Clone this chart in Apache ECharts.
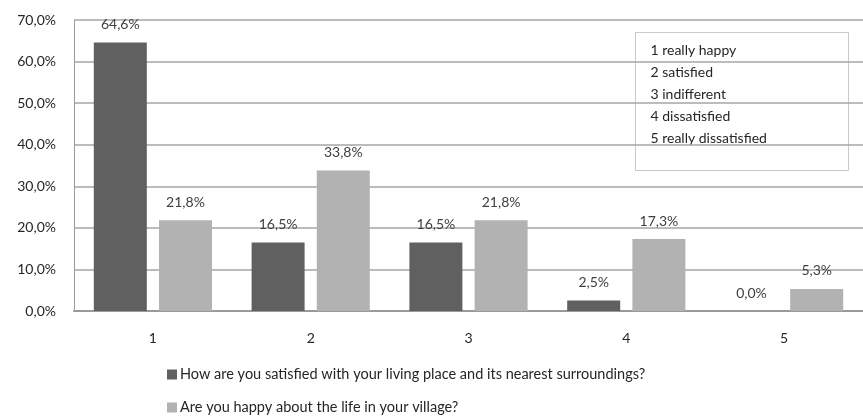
<!DOCTYPE html>
<html><head><meta charset="utf-8">
<script src="https://cdn.jsdelivr.net/npm/echarts@6/dist/echarts.min.js"></script>
<style>html,body{margin:0;padding:0;background:#fff}#c{width:863px;height:418px}</style>
</head><body><div id="c"></div>
<script>
const categories = ['1', '2', '3', '4', '5'];
const seriesNames = ['How are you satisfied with your living place and its nearest surroundings?', 'Are you happy about the life in your village?'];
const satisfiedValues = [64.6, 16.5, 16.5, 2.5, 0.0];
const happyValues = [21.8, 33.8, 21.8, 17.3, 5.3];
const scaleLabels = ['1 really happy', '2 satisfied', '3 indifferent', '4 dissatisfied', '5 really dissatisfied'];

const FONT = 'Lato, "Open Sans", sans-serif';
const fmt = v => v.toFixed(1).replace('.', ',') + '%';
const chart = echarts.init(document.getElementById('c'), null, {renderer: 'canvas'});
const labelStyle = {show: true, position: 'top', distance: 11, color: '#404040', fontSize: 14, fontFamily: FONT,
  formatter: p => fmt(p.value)};
const legendBase = {orient: 'vertical', left: 167, itemWidth: 10, itemHeight: 10, icon: 'rect', padding: 0,
  textStyle: {fontSize: 14.5, color: '#262626', fontFamily: FONT, padding: [0, 0, 0, -2]}};
chart.setOption({
  animation: false,
  grid: {left: 74, right: -2, top: 20, bottom: 107, containLabel: false},
  legend: [
    Object.assign({}, legendBase, {top: 367, data: [seriesNames[0]]}),
    Object.assign({}, legendBase, {top: 400, data: [seriesNames[1]]})
  ],
  xAxis: {
    type: 'category', data: categories,
    axisLine: {lineStyle: {color: '#9a9a9a', width: 2}},
    axisTick: {show: false},
    axisLabel: {color: '#262626', fontSize: 14, fontFamily: FONT, margin: 20}
  },
  yAxis: {
    type: 'value', min: 0, max: 70, interval: 10,
    axisLine: {show: true, lineStyle: {color: '#9a9a9a', width: 1}},
    axisTick: {show: false},
    splitLine: {lineStyle: {color: '#a6a6a6', width: 1.5}},
    axisLabel: {color: '#262626', fontSize: 14, fontFamily: FONT, margin: 18, formatter: v => v.toFixed(1).replace('.', ',') + '%'}
  },
  series: [
    {name: seriesNames[0], type: 'bar', data: satisfiedValues, barWidth: 53, barGap: '23%',
     itemStyle: {color: '#606060'}, label: labelStyle},
    {name: seriesNames[1], type: 'bar', data: happyValues, barWidth: 53,
     itemStyle: {color: '#b2b2b2'}, label: labelStyle}
  ],
  graphic: [{
    type: 'group', left: 635, top: 32,
    children: [
      {type: 'rect', shape: {x: 0, y: 0, width: 213, height: 138}, style: {fill: '#fff', stroke: '#c8c8c8', lineWidth: 1}},
      ...scaleLabels.map((t, i) => ({type: 'text', x: 15, y: 11 + i * 22,
        style: {text: t, fontSize: 14, fontFamily: FONT, fill: '#262626'}}))
    ]
  }]
});
</script></body></html>
